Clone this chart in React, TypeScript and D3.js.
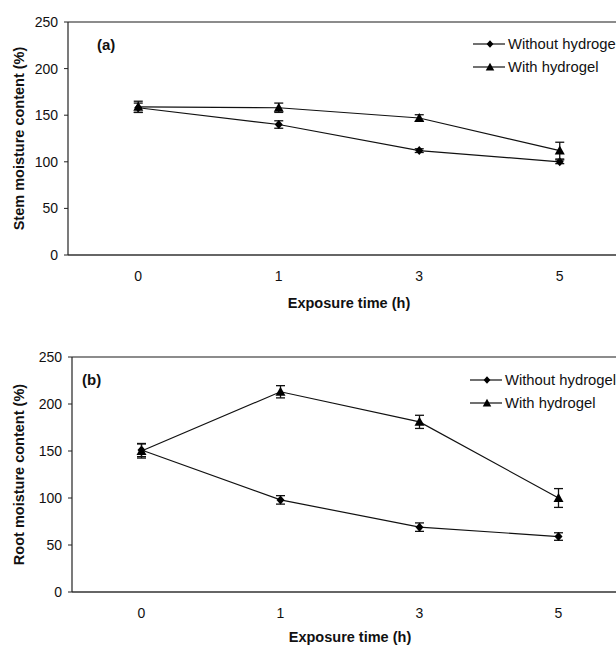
import * as d3 from 'd3'

// exposure time categories
const timeLabels = ['0', '1', '3', '5']
const yTicks = [0, 50, 100, 150, 200, 250]

// (a) stem moisture content (%)
const stemWithout = [158, 140, 112, 100]
const stemWithoutErr = [5, 4, 2, 2]
const stemWith = [159, 158, 147, 112]
const stemWithErr = [6, 5, 3.5, 9]

// (b) root moisture content (%)
const rootWithout = [151, 98, 69, 59]
const rootWithoutErr = [7, 4.5, 4.5, 4]
const rootWith = [150, 213, 181, 100]
const rootWithErr = [7.5, 6.5, 7, 10]

const seriesNames = ['Without hydrogel', 'With hydrogel']

const FONT = '"Liberation Sans", Arial, sans-serif'
const DIAMOND = 'M0,-4.5L4,0L0,4.5L-4,0Z'
const TRIANGLE = 'M0,-5L5,4L-5,4Z'

interface PanelProps {
  tag: string
  yTitle: string
  left: number
  top: number
  bottom: number
  band: number
  without: number[]
  withoutErr: number[]
  withGel: number[]
  withGelErr: number[]
  legendX: number
  legendY: number
  tagX: number
  tagY: number
  titleGap: number
}

function Panel(p: PanelProps) {
  const x = d3.scaleBand<string>()
    .domain(timeLabels)
    .range([p.left, p.left + p.band * timeLabels.length])
  const y = d3.scaleLinear().domain([0, 250]).range([p.bottom, p.top])
  const cx = (d: string) => (x(d) ?? 0) + x.bandwidth() / 2
  const right = p.left + p.band * timeLabels.length

  const line = d3.line<number>()
    .x((_, i) => cx(timeLabels[i]))
    .y(d => y(d))

  const series = [
    { vals: p.without, errs: p.withoutErr, shape: DIAMOND },
    { vals: p.withGel, errs: p.withGelErr, shape: TRIANGLE },
  ]

  return (
    <g fontFamily={FONT}>
      {/* plot frame */}
      <line x1={p.left} x2={right} y1={p.top} y2={p.top} stroke="#666" strokeWidth={1.3} />
      <line x1={p.left} x2={right} y1={p.bottom} y2={p.bottom} stroke="#333" strokeWidth={1.3} />
      <line x1={p.left} x2={p.left} y1={p.top} y2={p.bottom} stroke="#222" strokeWidth={1.2} />

      {/* y axis */}
      {yTicks.map(t => (
        <g key={t}>
          <line x1={p.left - 4} x2={p.left} y1={y(t)} y2={y(t)} stroke="#222" />
          <text x={p.left - 10} y={y(t)} dy="0.35em" textAnchor="end" fontSize={14} fill="#111">{t}</text>
        </g>
      ))}
      <text
        transform={`translate(${19},${(p.top + p.bottom) / 2}) rotate(-90)`}
        textAnchor="middle" dy="0.35em" fontSize={14.5} fontWeight="bold" fill="#111"
      >{p.yTitle}</text>

      {/* x axis */}
      {timeLabels.map(t => (
        <text key={t} x={cx(t)} y={p.bottom + 21} dy="0.35em" textAnchor="middle" fontSize={14} fill="#111">{t}</text>
      ))}
      <text x={(p.left + right) / 2} y={p.bottom + p.titleGap} dy="0.35em" textAnchor="middle" fontSize={14.5} fontWeight="bold" fill="#111">
        Exposure time (h)
      </text>

      {/* panel tag */}
      <text x={p.tagX} y={p.tagY} dy="0.35em" fontSize={15} fontWeight="bold" fill="#111">{p.tag}</text>

      {/* series */}
      {series.map((s, si) => (
        <g key={si}>
          <path d={line(s.vals) ?? ''} fill="none" stroke="#111" strokeWidth={1.2} />
          {s.vals.map((v, i) => {
            const px = cx(timeLabels[i])
            const y1 = y(v + s.errs[i])
            const y2 = y(v - s.errs[i])
            return (
              <g key={i}>
                <line x1={px} x2={px} y1={y1} y2={y2} stroke="#111" strokeWidth={1.3} />
                <line x1={px - 4.5} x2={px + 4.5} y1={y1} y2={y1} stroke="#111" strokeWidth={1.3} />
                <line x1={px - 4.5} x2={px + 4.5} y1={y2} y2={y2} stroke="#111" strokeWidth={1.3} />
                <path d={s.shape} transform={`translate(${px},${y(v)})`} fill="#000" />
              </g>
            )
          })}
        </g>
      ))}

      {/* legend */}
      {seriesNames.map((name, i) => {
        const ly = p.legendY + i * 23
        return (
          <g key={name}>
            <line x1={p.legendX} x2={p.legendX + 32} y1={ly} y2={ly} stroke="#111" strokeWidth={1.2} />
            <path d={series[i].shape} transform={`translate(${p.legendX + 17},${ly}) scale(0.85)`} fill="#000" />
            <text x={p.legendX + 35} y={ly} dy="0.35em" fontSize={14.8} fill="#111">{name}</text>
          </g>
        )
      })}
    </g>
  )
}

export default function App() {
  return (
    <svg
      width={616}
      height={646}
      style={{ position: 'absolute', left: 0, top: 0, display: 'block', background: '#fff' }}
    >
      <rect width={616} height={646} fill="#fff" />
      <Panel
        tag="(a)" yTitle="Stem moisture content (%)"
        left={68} top={22} bottom={255} band={140.5}
        without={stemWithout} withoutErr={stemWithoutErr}
        withGel={stemWith} withGelErr={stemWithErr}
        legendX={473} legendY={44} tagX={97} tagY={45} titleGap={48}
      />
      <Panel
        tag="(b)" yTitle="Root moisture content (%)"
        left={72} top={357} bottom={592} band={139}
        without={rootWithout} withoutErr={rootWithoutErr}
        withGel={rootWith} withGelErr={rootWithErr}
        legendX={470} legendY={380} tagX={82} tagY={380} titleGap={45}
      />
    </svg>
  )
}
